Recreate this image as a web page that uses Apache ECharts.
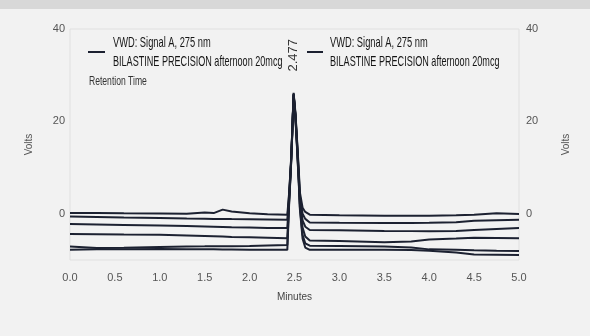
<!DOCTYPE html>
<html>
<head>
<meta charset="utf-8">
<script src="https://cdn.jsdelivr.net/npm/echarts@6/dist/echarts.min.js"></script>
<style>
  html, body { margin: 0; padding: 0; background: #f2f2f2; }
  #chart { width: 590px; height: 336px; }
</style>
</head>
<body>
<div id="chart"></div>
<script>
// retention time (minutes) where each trace was read
const times = [0, 0.3, 0.6, 1.0, 1.3, 1.5, 1.6, 1.7, 1.8, 2.0, 2.2, 2.42, 2.44, 2.46, 2.47, 2.49, 2.51, 2.53, 2.55, 2.56, 2.59, 2.62, 2.67, 3.0, 3.5, 3.8, 4.0, 4.3, 4.5, 4.75, 5.0]
// six overlaid injections (volts)
const trace1 = [0.15, 0.15, 0.1, 0.05, 0.0, 0.3, 0.15, 0.9, 0.5, 0.1, -0.1, -0.2, 4.5, 11, 15.5, 26.2, 22, 15.5, 8.5, 4.6, 1.3, 0.4, -0.2, -0.3, -0.4, -0.4, -0.4, -0.3, -0.2, 0.1, -0.05]
const trace2 = [-0.6, -0.7, -0.8, -0.9, -1.0, -1.05, -1.1, -1.1, -1.15, -1.2, -1.25, -1.3, 4.0, 10.8, 15.3, 26.0, 21.7, 15.0, 7.8, 3.8, 0.0, -1.1, -1.9, -1.95, -2.0, -2.0, -1.95, -1.85, -1.5, -1.4, -1.3]
const trace3 = [-2.2, -2.3, -2.4, -2.55, -2.65, -2.75, -2.8, -2.85, -2.9, -2.95, -3.05, -3.1, 3.5, 10.5, 15.2, 25.9, 21.5, 14.6, 7.2, 3.0, -1.4, -2.8, -3.5, -3.55, -3.7, -3.75, -3.8, -3.7, -3.5, -3.3, -3.1]
const trace4 = [-4.35, -4.4, -4.5, -4.55, -4.7, -4.8, -4.85, -4.9, -5.0, -5.1, -5.2, -5.3, 3.0, 10.2, 15.0, 25.8, 21.2, 14.2, 6.6, 2.2, -3.0, -4.9, -5.8, -5.9, -6.15, -6.0, -5.55, -5.35, -5.2, -5.25, -5.3]
const trace5 = [-7.1, -7.4, -7.35, -7.2, -7.1, -7.05, -7.0, -7.0, -7.0, -6.95, -6.85, -6.75, 2.5, 10.0, 14.8, 25.7, 21.0, 13.8, 6.0, 1.5, -4.6, -6.4, -6.9, -6.95, -7.1, -7.3, -7.7, -7.8, -7.9, -8.0, -8.05]
const trace6 = [-7.8, -7.7, -7.65, -7.6, -7.65, -7.7, -7.7, -7.75, -7.75, -7.8, -7.8, -7.8, 2.0, 9.8, 14.6, 25.6, 20.8, 13.5, 5.6, 1.0, -5.4, -7.3, -7.8, -7.8, -7.8, -7.85, -8.0, -8.4, -8.8, -8.85, -8.9]
const traces = [trace1, trace2, trace3, trace4, trace5, trace6]
const yLabels = [0, 20, 40]
const peakTime = 2.477
const legendLines = ['VWD: Signal A, 275 nm', 'BILASTINE PRECISION afternoon 20mcg']

const font = "'Liberation Sans', Arial, sans-serif"
const lineColor = '#1c2131'

// the print uses a condensed face, so squeeze the text horizontally
function narrowText(text, x, y, size, color, squeeze, rot) {
  return {
    type: 'text', x: x, y: y, scaleX: squeeze, rotation: rot || 0,
    style: { text: text, font: `${size}px ${font}`, fill: color, verticalAlign: 'middle', align: rot ? 'center' : 'left' }
  }
}

function legendBlock(x0, x1, tx) {
  return [
    { type: 'line', shape: { x1: x0, y1: 52, x2: x1, y2: 52 }, style: { stroke: lineColor, lineWidth: 2 } },
    narrowText(legendLines[0], tx, 43, 15, '#151515', 0.62),
    narrowText(legendLines[1], tx, 62, 15, '#151515', 0.605)
  ]
}

const chart = echarts.init(document.getElementById('chart'))
const yAxisBase = {
  type: 'value', min: -10, max: 40, interval: 10,
  axisLine: { show: false }, axisTick: { show: false }, splitLine: { show: false },
  name: 'Volts', nameLocation: 'middle', nameRotate: 90,
  nameTextStyle: { fontFamily: font, fontSize: 10, color: '#555' },
  axisLabel: { fontFamily: font, fontSize: 11, color: '#555',
    formatter: v => yLabels.includes(v) ? String(v) : '' }
}
chart.setOption({
  backgroundColor: '#f2f2f2',
  animation: false,
  grid: { left: 70, right: 71, top: 29, bottom: 76, show: true, borderColor: '#e0e0e0', borderWidth: 1 },
  xAxis: {
    type: 'value', min: 0, max: 5, interval: 0.5,
    name: 'Minutes', nameLocation: 'middle', nameGap: 32,
    nameTextStyle: { fontFamily: font, fontSize: 10, color: '#444' },
    axisLine: { show: false }, axisTick: { show: false }, splitLine: { show: false },
    axisLabel: { fontFamily: font, fontSize: 11, color: '#555', margin: 12, formatter: v => v.toFixed(1) }
  },
  yAxis: [
    { ...yAxisBase, position: 'left', nameGap: 36, axisLabel: { ...yAxisBase.axisLabel, margin: 5 } },
    { ...yAxisBase, position: 'right', nameGap: 42, axisLabel: { ...yAxisBase.axisLabel, margin: 7 } }
  ],
  series: traces.map(tr => ({
    type: 'line',
    data: times.map((t, i) => [t, tr[i]]),
    showSymbol: false,
    lineStyle: { color: lineColor, width: 2 }
  }))
})

// peak annotation sits above the apex, so place it through the axes
const peakPx = chart.convertToPixel({ gridIndex: 0 }, [peakTime, 34.3])
chart.setOption({
  graphic: [
    { type: 'rect', shape: { x: 0, y: 0, width: 590, height: 9 }, style: { fill: '#d8d8d8' } },
    ...legendBlock(88, 105, 113),
    ...legendBlock(307, 323, 330),
    narrowText('Retention Time', 89, 81, 13, '#333', 0.66),
    narrowText(peakTime.toFixed(3), peakPx[0] + 1, peakPx[1], 13, '#333', 1, Math.PI / 2)
  ]
})
</script>
</body>
</html>
